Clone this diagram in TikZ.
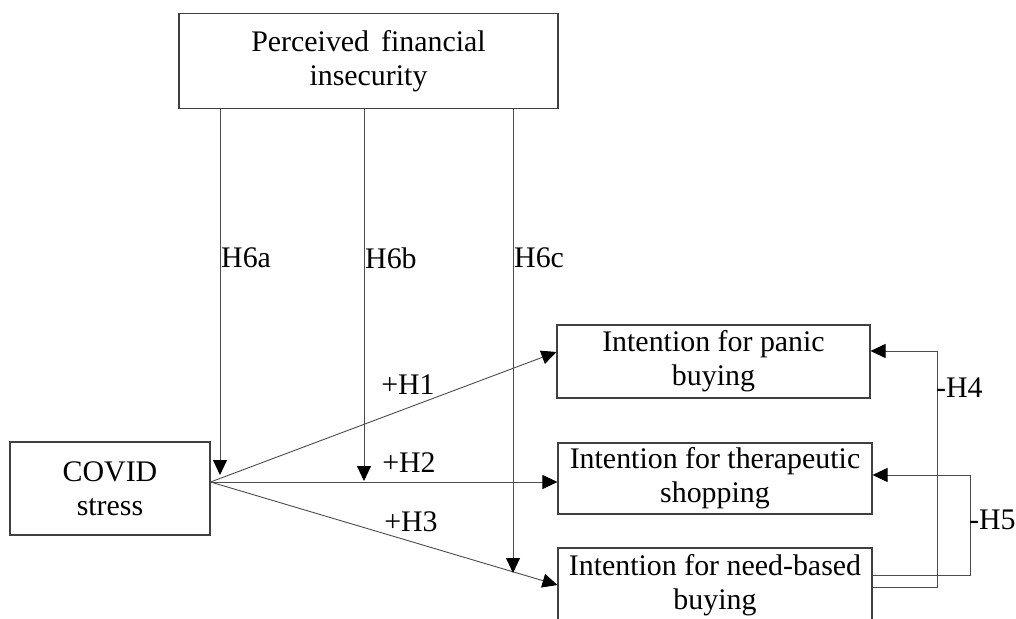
\documentclass[tikz,border=0pt]{standalone}
\usepackage{fontspec}
\setmainfont{Liberation Serif}
\usetikzlibrary{arrows.meta,calc}
\begin{document}
\begin{tikzpicture}[x=1bp,y=-1bp,
  box/.style={draw=black!75, line width=1.1bp, align=center, inner sep=0pt,
    font=\fontsize{30}{34}\selectfont},
  conn/.style={draw=black!70, line width=0.9bp, -{Triangle[length=15bp,width=14bp,color=black]}},
  lab/.style={font=\fontsize{30}{34}\selectfont, inner sep=0pt}]
\useasboundingbox (0,0) rectangle (1016,619);
\clip (0,0) rectangle (1016,619);
\fill[white] (0,0) rectangle (1016,619);
% boxes
\node[box, minimum width=379bp, minimum height=95bp] (pfi) at (368.5,61) {Perceived\hspace{0.4em}financial\\insecurity};
\node[box, minimum width=200bp, minimum height=93bp] (covid) at (110,488.5) {COVID\\stress};
\node[box, minimum width=313bp, minimum height=73bp] (panic) at (713.5,361.5) {Intention for panic\\buying};
\node[box, minimum width=314bp, minimum height=71bp] (thera) at (715,478.5) {Intention for therapeutic\\shopping};
\node[box, minimum width=314bp, minimum height=74bp] (need) at (715,585) {Intention for need-based\\buying};
% fan origin and moderation targets
\coordinate (o) at (covid.east |- 0,482);
\coordinate (t6a) at (220,475);
\coordinate (t6b) at (364,481);
\coordinate (t6c) at (513,573);
% main paths
\draw[conn] (o) -- (panic.west |- 0,352);
\draw[conn] (o) -- (thera.west |- 0,482);
\draw[conn] (o) -- (need.west);
% moderation arrows
\draw[conn] (pfi.south -| t6a) -- (t6a);
\draw[conn] (pfi.south -| t6b) -- (t6b);
\draw[conn] (pfi.south -| t6c) -- (t6c);
% feedback arrows
\draw[conn] (need.east |- 0,587) -- (937,587) -- (937,351) -- (panic.east |- 0,351);
\draw[conn] (need.east |- 0,575) -- (970,575) -- (970,475) -- (thera.east |- 0,475);
% labels
\node[lab, anchor=west] (l6a) at (221,258) {H6a};
\node[lab, anchor=west] (l6b) at (365,258) {H6b};
\node[lab, anchor=west] (l6c) at (514,258) {H6c};
\node[lab] (l1) at (408,385) {+H1};
\node[lab] (l2) at (409,463) {+H2};
\node[lab] (l3) at (411,522) {+H3};
\node[lab, anchor=west] (l4) at (936,388) {-H4};
\node[lab, anchor=west] (l5) at (969,520) {-H5};
\end{tikzpicture}
\end{document}
